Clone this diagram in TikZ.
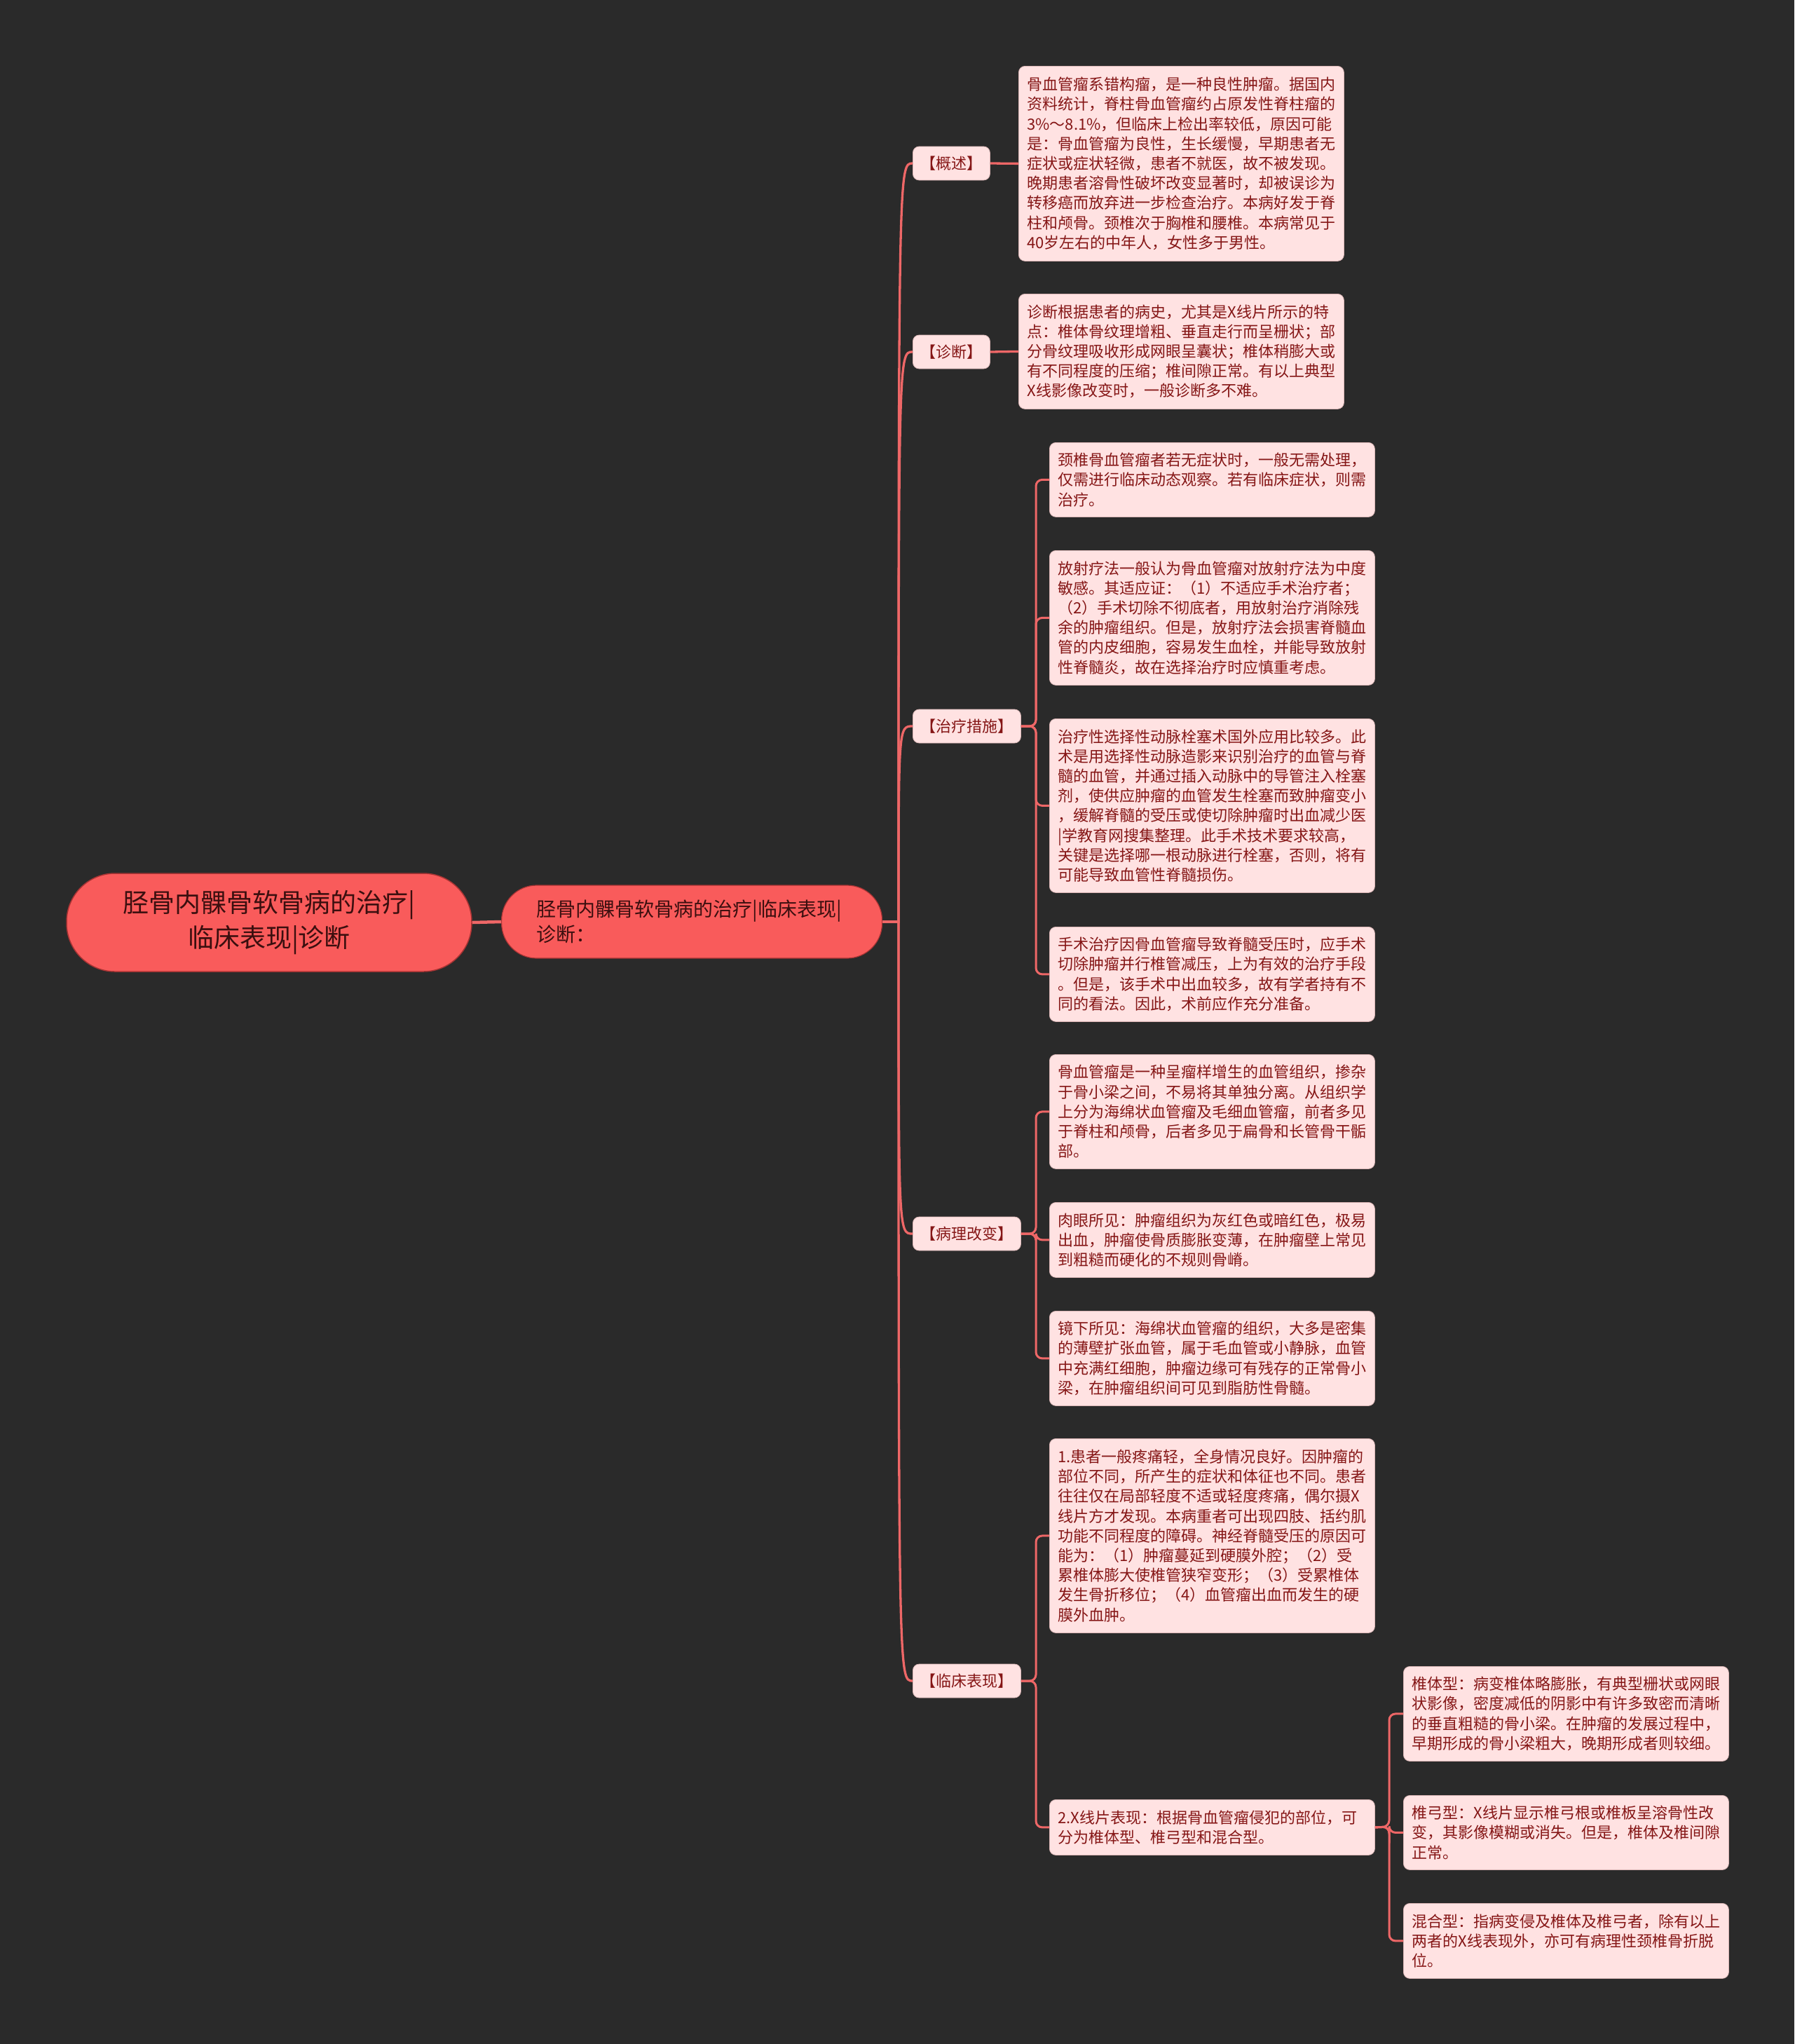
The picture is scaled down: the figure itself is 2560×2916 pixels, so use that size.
\documentclass[tikz,border=0pt]{standalone}
\usepackage{fontspec}
\setmainfont{Noto Sans CJK SC}
\definecolor{bgcol}{HTML}{2A2A2A}
\definecolor{coral}{HTML}{F95B5B}
\definecolor{coraldraw}{HTML}{A83434}
\definecolor{linecol}{HTML}{EE6767}
\definecolor{leaffill}{HTML}{FFE2E2}
\definecolor{leafdraw}{HTML}{D9B5B5}
\definecolor{txtred}{HTML}{851616}
\definecolor{roottxt}{HTML}{3B0F0F}
\setlength{\parindent}{0pt}
\begin{document}
\begin{tikzpicture}[x=1pt,y=-1pt,
  rootbox/.style={draw=coraldraw, line width=1.5pt, fill=coral, rounded corners=69pt, minimum width=578pt, minimum height=140pt, inner sep=0pt, align=center, text=roottxt, font=\fontsize{37}{50}\selectfont},
  subbox/.style={draw=coraldraw, line width=1.2pt, fill=coral, rounded corners=50pt, minimum width=543pt, minimum height=104pt, inner xsep=50pt, inner ysep=0pt, text width=443pt, align=left, text=roottxt, font=\fontsize{28}{36}\selectfont},
  leaf/.style={draw=leafdraw, line width=0.8pt, fill=leaffill, rounded corners=9pt, anchor=north west, text width=440pt, inner xsep=12pt, inner ysep=0pt, align=left, text=txtred, font=\fontsize{22}{28.2}\selectfont},
  cat/.style={draw=leafdraw, line width=0.8pt, fill=leaffill, rounded corners=9pt, anchor=west, minimum height=48pt, inner xsep=11pt, inner ysep=0pt, text=txtred, font=\fontsize{22}{26}\selectfont},
  link/.style={draw=linecol, line width=3.3pt},
  br/.style={draw=linecol, line width=3pt, rounded corners=9pt},
]
\fill[bgcol] (0,0) rectangle (2560,2916);
\useasboundingbox (0,0) rectangle (2560,2916);

% root and second level
\node[rootbox] (root) at (384,1316) {胫骨内髁骨软骨病的治疗|\\临床表现|诊断};
\node[subbox, anchor=west] (n2) at (715,1315) {胫骨内髁骨软骨病的治疗|临床表现|\\诊断：};

% categories
\node[cat] (c1) at (1302,233) {【概述】};
\node[cat] (c2) at (1302,502) {【诊断】};
\node[cat] (c3) at (1302,1036) {【治疗措施】};
\node[cat] (c4) at (1302,1760) {【病理改变】};
\node[cat] (c5) at (1302,2398) {【临床表现】};

% leaves
\node[leaf, minimum height=278pt] (l1) at (1453,94) {骨血管瘤系错构瘤，是一种良性肿瘤。据国内\\资料统计，脊柱骨血管瘤约占原发性脊柱瘤的\\3\%～8.1\%，但临床上检出率较低，原因可能\\是：骨血管瘤为良性，生长缓慢，早期患者无\\症状或症状轻微，患者不就医，故不被发现。\\晚期患者溶骨性破坏改变显著时，却被误诊为\\转移癌而放弃进一步检查治疗。本病好发于脊\\柱和颅骨。颈椎次于胸椎和腰椎。本病常见于\\40岁左右的中年人，女性多于男性。};
\node[leaf, minimum height=164pt] (l2) at (1453,419) {诊断根据患者的病史，尤其是X线片所示的特\\点：椎体骨纹理增粗、垂直走行而呈栅状；部\\分骨纹理吸收形成网眼呈囊状；椎体稍膨大或\\有不同程度的压缩；椎间隙正常。有以上典型\\X线影像改变时，一般诊断多不难。};
\node[leaf, minimum height=106pt] (l3) at (1497,631) {颈椎骨血管瘤者若无症状时，一般无需处理，\\仅需进行临床动态观察。若有临床症状，则需\\治疗。};
\node[leaf, minimum height=192pt] (l4) at (1497,785) {放射疗法一般认为骨血管瘤对放射疗法为中度\\敏感。其适应证：（1）不适应手术治疗者；\\（2）手术切除不彻底者，用放射治疗消除残\\余的肿瘤组织。但是，放射疗法会损害脊髓血\\管的内皮细胞，容易发生血栓，并能导致放射\\性脊髓炎，故在选择治疗时应慎重考虑。};
\node[leaf, minimum height=248pt] (l5) at (1497,1025) {治疗性选择性动脉栓塞术国外应用比较多。此\\术是用选择性动脉造影来识别治疗的血管与脊\\髓的血管，并通过插入动脉中的导管注入栓塞\\剂，使供应肿瘤的血管发生栓塞而致肿瘤变小\\，缓解脊髓的受压或使切除肿瘤时出血减少医\\|学教育网搜集整理。此手术技术要求较高，\\关键是选择哪一根动脉进行栓塞，否则，将有\\可能导致血管性脊髓损伤。};
\node[leaf, minimum height=135pt] (l6) at (1497,1322) {手术治疗因骨血管瘤导致脊髓受压时，应手术\\切除肿瘤并行椎管减压，上为有效的治疗手段\\。但是，该手术中出血较多，故有学者持有不\\同的看法。因此，术前应作充分准备。};
\node[leaf, minimum height=163pt] (l7) at (1497,1504) {骨血管瘤是一种呈瘤样增生的血管组织，掺杂\\于骨小梁之间，不易将其单独分离。从组织学\\上分为海绵状血管瘤及毛细血管瘤，前者多见\\于脊柱和颅骨，后者多见于扁骨和长管骨干骺\\部。};
\node[leaf, minimum height=107pt] (l8) at (1497,1715) {肉眼所见：肿瘤组织为灰红色或暗红色，极易\\出血，肿瘤使骨质膨胀变薄，在肿瘤壁上常见\\到粗糙而硬化的不规则骨嵴。};
\node[leaf, minimum height=135pt] (l9) at (1497,1870) {镜下所见：海绵状血管瘤的组织，大多是密集\\的薄壁扩张血管，属于毛血管或小静脉，血管\\中充满红细胞，肿瘤边缘可有残存的正常骨小\\梁，在肿瘤组织间可见到脂肪性骨髓。};
\node[leaf, minimum height=277pt] (l10) at (1497,2052) {1.患者一般疼痛轻，全身情况良好。因肿瘤的\\部位不同，所产生的症状和体征也不同。患者\\往往仅在局部轻度不适或轻度疼痛，偶尔摄X\\线片方才发现。本病重者可出现四肢、括约肌\\功能不同程度的障碍。神经脊髓受压的原因可\\能为：（1）肿瘤蔓延到硬膜外腔；（2）受\\累椎体膨大使椎管狭窄变形；（3）受累椎体\\发生骨折移位；（4）血管瘤出血而发生的硬\\膜外血肿。};
\node[leaf, minimum height=79pt] (l11) at (1497,2567) {2.X线片表现：根据骨血管瘤侵犯的部位，可\\分为椎体型、椎弓型和混合型。};
\node[leaf, minimum height=135pt] (l12) at (2002,2377) {椎体型：病变椎体略膨胀，有典型栅状或网眼\\状影像，密度减低的阴影中有许多致密而清晰\\的垂直粗糙的骨小梁。在肿瘤的发展过程中，\\早期形成的骨小梁粗大，晚期形成者则较细。};
\node[leaf, minimum height=106pt] (l13) at (2002,2561) {椎弓型：X线片显示椎弓根或椎板呈溶骨性改\\变，其影像模糊或消失。但是，椎体及椎间隙\\正常。};
\node[leaf, minimum height=107pt] (l14) at (2002,2715) {混合型：指病变侵及椎体及椎弓者，除有以上\\两者的X线表现外，亦可有病理性颈椎骨折脱\\位。};

% connectors
\draw[linecol, line width=4.5pt] (root.east) -- (n2.west);
\coordinate (sp) at (1282,1315);
\foreach \c in {c1,c2,c3,c4,c5}
  \draw[link] (n2.east) -- (sp) .. controls (sp |- \c.west) .. (\c.west);

\draw[link] (c1.east) -- (l1.west);
\draw[link] (c2.east) -- (l2.west);

\coordinate (b3) at (1478,1036);
\foreach \l in {l3,l4,l5,l6}
  \draw[br] (c3.east) -- (b3) |- (\l.west);
\coordinate (b4) at (1478,1760);
\foreach \l in {l7,l8,l9}
  \draw[br] (c4.east) -- (b4) |- (\l.west);
\coordinate (b5) at (1478,2398);
\foreach \l in {l10,l11}
  \draw[br] (c5.east) -- (b5) |- (\l.west);
\coordinate (b6) at (1982,2606);
\foreach \l in {l12,l13,l14}
  \draw[br] (l11.east) -- (b6) |- (\l.west);
\end{tikzpicture}
\end{document}
